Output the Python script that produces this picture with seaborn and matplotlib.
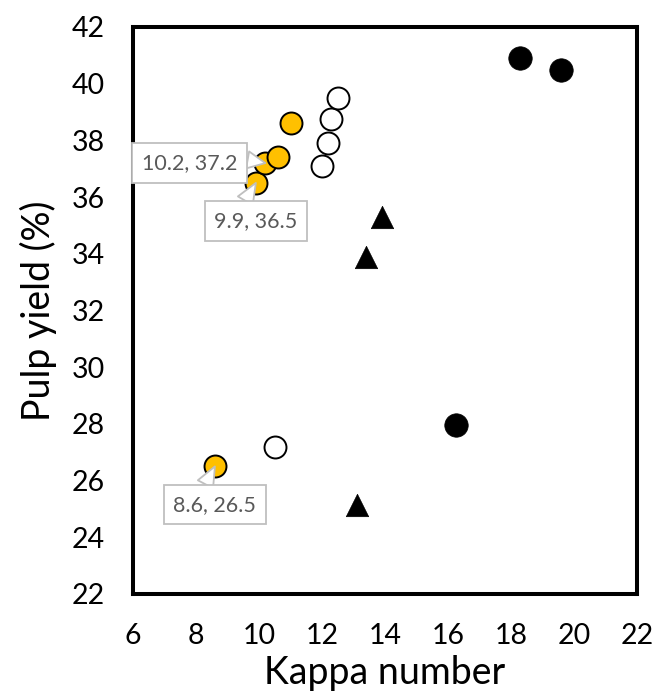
import matplotlib
matplotlib.use("Agg")
import matplotlib.pyplot as plt
import seaborn as sns
import pandas as pd

# ---- data ----
yellow_kappa = [8.6, 9.9, 10.2, 10.6, 11.0]
yellow_yield = [26.5, 36.5, 37.2, 37.4, 38.6]

white_kappa = [10.5, 12.0, 12.2, 12.3, 12.5]
white_yield = [27.2, 37.1, 37.9, 38.75, 39.5]

black_kappa = [16.25, 18.3, 19.6]
black_yield = [27.95, 40.9, 40.5]

tri_kappa = [13.1, 13.4, 13.9]
tri_yield = [25.15, 33.9, 35.3]

label_points = [(10.2, 37.2), (9.9, 36.5), (8.6, 26.5)]

x_ticks = [6, 8, 10, 12, 14, 16, 18, 20, 22]
y_ticks = [22, 24, 26, 28, 30, 32, 34, 36, 38, 40, 42]

sns.set_theme(style="white")
plt.rcParams["font.family"] = ["Lato", "DejaVu Sans"]

fig = plt.figure(figsize=(6.56, 6.93), dpi=100)
ax = fig.add_axes([133 / 656, 1 - 594 / 693, (637 - 133) / 656, (594 - 27) / 693])

df_y = pd.DataFrame({"k": yellow_kappa, "y": yellow_yield})
df_w = pd.DataFrame({"k": white_kappa, "y": white_yield})
df_b = pd.DataFrame({"k": black_kappa, "y": black_yield})
df_t = pd.DataFrame({"k": tri_kappa, "y": tri_yield})

sns.scatterplot(data=df_w, x="k", y="y", marker="o", s=250, color="white",
                edgecolor="black", linewidth=1.4, ax=ax, zorder=3)
sns.scatterplot(data=df_y, x="k", y="y", marker="o", s=250, color="#FFC000",
                edgecolor="black", linewidth=1.4, ax=ax, zorder=3)
sns.scatterplot(data=df_b, x="k", y="y", marker="o", s=285, color="black",
                edgecolor="black", linewidth=0.5, ax=ax, zorder=3)
sns.scatterplot(data=df_t, x="k", y="y", marker="^", s=260, color="black",
                edgecolor="black", linewidth=0.5, ax=ax, zorder=3)

ax.set_xlim(6, 22)
ax.set_ylim(22, 42)
ax.set_xticks(x_ticks)
ax.set_yticks(y_ticks)
ax.set_xticklabels([str(t) for t in x_ticks])
ax.set_yticklabels([str(t) for t in y_ticks])

for s in ax.spines.values():
    s.set_visible(True)
    s.set_color("black")
    s.set_linewidth(2.9)

ax.tick_params(axis="both", direction="in", length=6, width=1.5, color="black",
               labelsize=20.5, labelcolor="black")
ax.tick_params(axis="x", pad=21)
ax.tick_params(axis="y", pad=20)

ax.set_xlabel("Kappa number", fontsize=27, color="black", labelpad=4)
ax.set_ylabel("Pulp yield (%)", fontsize=27, color="black", labelpad=11)

# callouts: (offset in points, relpos of pointer base)
callout_style = [((-54.5, 0), (1.0, 0.75)), ((0, -27.5), (0.3, 1.0)), ((0, -27.5), (0.32, 1.0))]
for (px, py), (off, rp) in zip(label_points, callout_style):
    ax.annotate(f"{px}, {py}", xy=(px, py), xytext=off, textcoords="offset points",
                ha="center", va="center", fontsize=15.5, color="#595959", zorder=5,
                bbox=dict(boxstyle="square,pad=0.45", fc="white", ec="#BFBFBF", lw=1.3),
                arrowprops=dict(arrowstyle="wedge,tail_width=0.8", fc="white",
                                ec="#BFBFBF", lw=1.3, relpos=rp, shrinkA=0, shrinkB=0))

fig.savefig("out.png", dpi=100)
